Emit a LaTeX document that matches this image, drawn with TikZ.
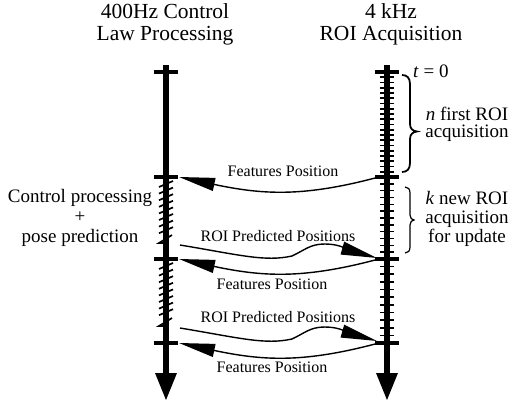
\documentclass[tikz,border=0pt]{standalone}
\usepackage{fontspec}
\setmainfont{Liberation Serif}
\usetikzlibrary{arrows.meta}
\begin{document}
\begin{tikzpicture}[x=1pt,y=-1pt,
  axis/.style={line width=6pt},
  major/.style={line width=4pt},
  minor/.style={line width=1.6pt},
  hatch/.style={line width=1.7pt},
  conn/.style={line width=1.4pt,-{Triangle[length=36pt,width=13pt]}},
  bracea/.style={line width=1.8pt},
  braceb/.style={line width=1.2pt},
  title/.style={font=\fontsize{21.5}{22}\selectfont,anchor=base,align=center},
  side/.style={font=\fontsize{19}{20}\selectfont,anchor=base,align=center},
  lab/.style={font=\fontsize{16}{18}\selectfont,anchor=base},
  inner sep=0pt]
\useasboundingbox (0,0) rectangle (519,409);
% axes
\coordinate (Ltop) at (166,65); \coordinate (Lbot) at (166,375); \coordinate (Lend) at (166,400);
\coordinate (Rtop) at (387,65); \coordinate (Rbot) at (387,375); \coordinate (Rend) at (387,400);
\draw[axis] (Ltop) -- (Lbot);
\draw[axis] (Rtop) -- (Rbot);
\fill (Lbot) ++(-11,-2) -- ++(22,0) -- (Lend) -- cycle;
\fill (Rbot) ++(-11,-2) -- ++(22,0) -- (Rend) -- cycle;
% major ticks
\foreach \y in {72,177,259,343} {
  \draw[major] (154,\y) -- (178,\y);
  \draw[major] (375,\y) -- (399,\y);
}
% minor ticks
\foreach \k in {1,...,19} \draw[minor] (380,{72+5.25*\k}) -- (394,{72+5.25*\k});
\foreach \k in {1,...,11} \draw[minor] (380,{177+6.833*\k}) -- (394,{177+6.833*\k});
\foreach \k in {1,...,10} \draw[minor] (380,{259+7.636*\k}) -- (394,{259+7.636*\k});
% hatching (processing)
\foreach \k in {0,...,7} \draw[hatch] (159,{187+6.6*\k}) -- (173,{181+6.6*\k});
\draw[hatch] (172,235) -- (159,243) -- (166,243);
\foreach \k in {0,...,7} \draw[hatch] (159,{269+6.6*\k}) -- (173,{263+6.6*\k});
\draw[hatch] (172,318) -- (159,326) -- (166,326);
% braces
\draw[bracea] (402,75) .. controls (407,75) and (410,78) .. (410,84) -- (410,124)
  .. controls (410,129) and (413,131) .. (417,131.5)
  .. controls (413,132) and (410,134) .. (410,139) -- (410,163)
  .. controls (410,169) and (407,172) .. (402,172);
\draw[braceb] (405,187) .. controls (408,187) and (410,189) .. (410,193) -- (410,215)
  .. controls (410,218) and (412,220) .. (414,220)
  .. controls (412,220) and (410,222) .. (410,225) -- (410,247)
  .. controls (410,251) and (408,253) .. (405,253);
% titles
\node[title] (t1) at (165,41) {400Hz Control\\Law Processing};
\node[title] (t2) at (391,41) {4 kHz\\ROI Acquisition};
% side texts
\node[side,anchor=base west] (t0) at (413,77.5) {\textit{t} = 0};
\node[side,font=\fontsize{19}{17.5}\selectfont] (nb) at (467,138) {\textit{n} first ROI\\acquisition};
\node[side,font=\fontsize{19}{19}\selectfont] (kb) at (467,242) {\textit{k} new ROI\\acquisition\\for update};
\node[side] (cb) at (80,242) {Control processing\\+\\pose prediction};
% connector labels
\node[lab] (f1) at (283,176) {Features Position};
\node[lab] (p1) at (278,241) {ROI Predicted Positions};
\node[lab] (f2) at (272,289) {Features Position};
\node[lab] (p2) at (278,322.7) {ROI Predicted Positions};
\node[lab] (f3) at (272,372.7) {Features Position};
% connectors
\coordinate (f1s) at (379,177); \coordinate (f1e) at (179,177);
\coordinate (f2s) at (379,259); \coordinate (f2e) at (179,259);
\coordinate (f3s) at (379,343); \coordinate (f3e) at (179,343);
\draw[conn] (f1s) .. controls +(-75,20) and +(85,18) .. (f1e);
\draw[conn] (f2s) .. controls +(-75,20) and +(85,18) .. (f2e);
\draw[conn] (f3s) .. controls +(-75,20) and +(85,18) .. (f3e);
\coordinate (p1s) at (180,245); \coordinate (p1e) at (377,258);
\coordinate (p2s) at (180,328); \coordinate (p2e) at (377,341);
\draw[conn] (p1s) .. controls +(60,10) and +(-27,6) .. ++(112,11)
  .. controls +(13,-6) and +(-15,0) .. ++(33,-12)
  .. controls +(15,0) and +(-28,-8) .. (p1e);
\draw[conn] (p2s) .. controls +(60,10) and +(-27,6) .. ++(112,11)
  .. controls +(13,-6) and +(-15,0) .. ++(33,-12)
  .. controls +(15,0) and +(-28,-8) .. (p2e);
\end{tikzpicture}
\end{document}
